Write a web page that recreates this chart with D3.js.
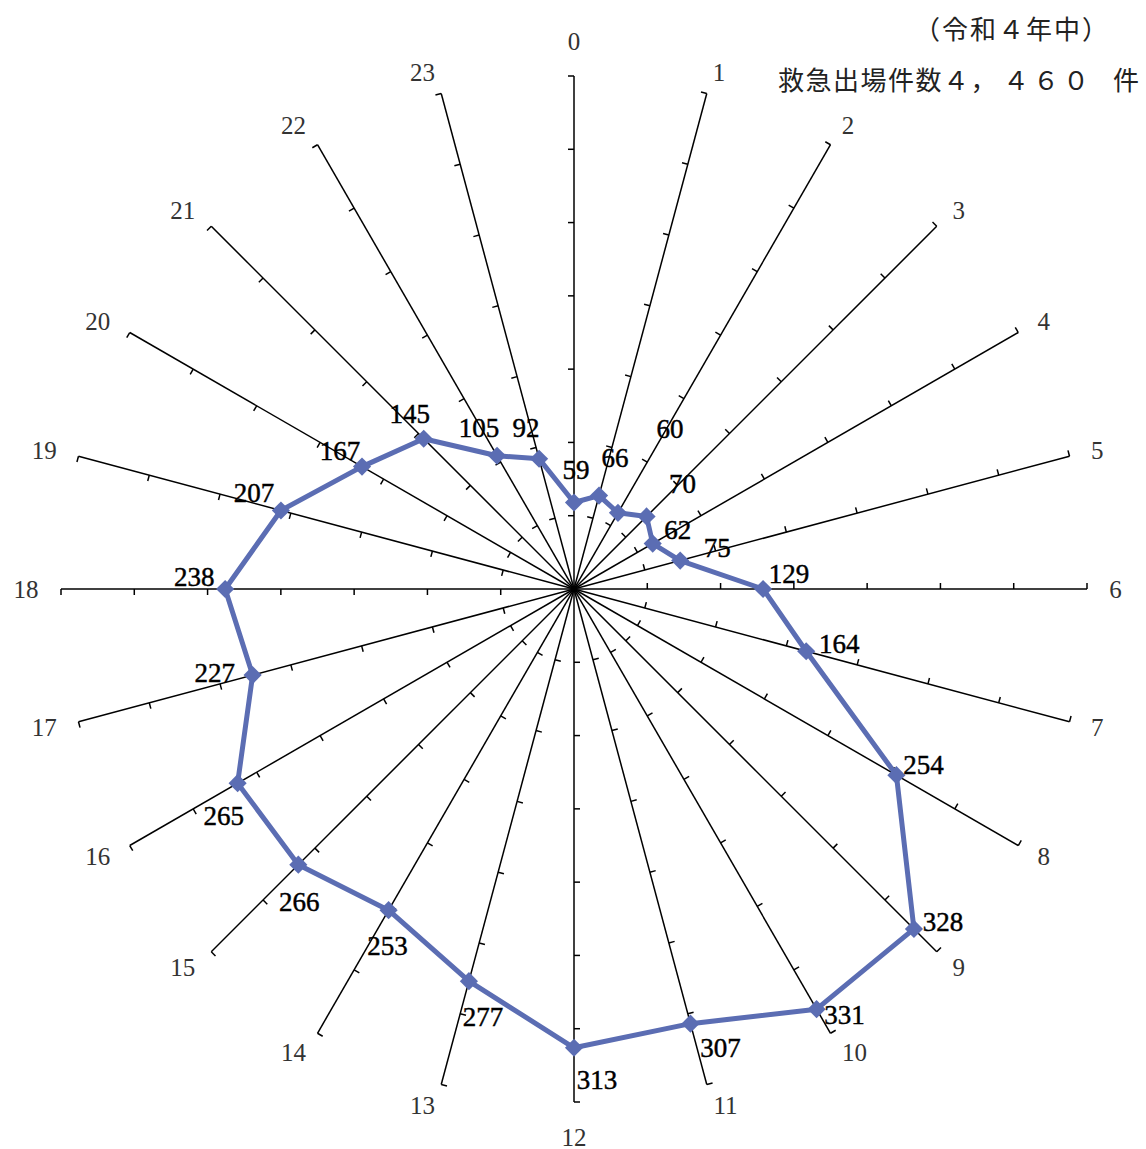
<!DOCTYPE html>
<html><head><meta charset="utf-8">
<script src="https://cdn.jsdelivr.net/npm/d3@7/dist/d3.min.js"></script>
<style>
html,body{margin:0;padding:0;background:#fff;}
svg{display:block;}
</style></head>
<body>
<svg id="chart" width="1146" height="1149"></svg>
<script>
// ---- data ----
const hours = ["0","1","2","3","4","5","6","7","8","9","10","11","12","13","14","15","16","17","18","19","20","21","22","23"];
const counts = [59,66,60,70,62,75,129,164,254,328,331,307,313,277,253,266,265,227,238,207,167,145,105,92];
const tickValues = [50,100,150,200,250,300,350];
const titleLine1 = "（令和４年中）";
const titleLine2a = "救急出場件数４，";
const titleLine2b = "４６０ ";
const titleLine2c = "件";
// label offsets (layout only, px from each marker)
const labelOffsets = [[2,-33],[16,-38],[52,-84],[36,-32],[25,-14],[37,-13],[26,-15],[33,-7],[27,-10],[29,-7],[28,6],[30,24],[23,32],[14,36],[-1,36],[1,37],[-14,33],[-38,-2],[-31,-12],[-27,-17],[-22,-16],[-14,-25],[-18,-28],[-13,-31]];

const svg = d3.select("#chart");
const cx = 574, cy = 589;
const rScale = d3.scaleLinear().domain([0,350]).range([0,513]);
const angle = d3.scaleLinear().domain([0,hours.length]).range([0,2*Math.PI]);

const g = svg.append("g").attr("transform",`translate(${cx},${cy})`);
const serif = "'Liberation Serif','Times New Roman',serif";

// axes
const axisG = g.append("g");
hours.forEach((h,i)=>{
  const a = angle(i);
  const [ex,ey] = d3.pointRadial(a, rScale(350));
  axisG.append("line").attr("x1",0).attr("y1",0).attr("x2",ex).attr("y2",ey)
    .attr("stroke","#000").attr("stroke-width",1.5);
  const px = -Math.cos(a), py = -Math.sin(a);
  tickValues.forEach(t=>{
    const [tx,ty] = d3.pointRadial(a, rScale(t));
    axisG.append("line").attr("x1",tx).attr("y1",ty).attr("x2",tx+px*6).attr("y2",ty+py*6)
      .attr("stroke","#000").attr("stroke-width",1.5);
  });
  const s = Math.sin(a);
  const vertical = Math.abs(s) < 1e-6;
  const [ax,ay] = d3.pointRadial(a, 535 + (vertical ? 13 : 0));
  const halfW = h.length * 6.5;
  const lx = ax + (vertical ? 0 : Math.sign(s) * halfW);
  axisG.append("text").attr("x",lx).attr("y",ay)
    .attr("text-anchor","middle").attr("dominant-baseline","central")
    .attr("font-family",serif).attr("font-size",25)
    .attr("fill","#333").text(h);
});

// series line
const radial = d3.lineRadial()
  .angle((d,i)=>angle(i))
  .radius(d=>rScale(d))
  .curve(d3.curveLinearClosed);
g.append("path").datum(counts).attr("d",radial)
  .attr("fill","none").attr("stroke","#5b6db3").attr("stroke-width",5).attr("stroke-linejoin","round");

// markers
const sym = d3.symbol().type(d3.symbolSquare).size(165);
counts.forEach((v,i)=>{
  const [x,y] = d3.pointRadial(angle(i), rScale(v));
  g.append("path").attr("d",sym()).attr("transform",`translate(${x},${y}) rotate(45)`)
    .attr("fill","#5b6db3");
});

// data labels
counts.forEach((v,i)=>{
  const [x,y] = d3.pointRadial(angle(i), rScale(v));
  const [dx,dy] = labelOffsets[i];
  g.append("text").attr("x",x+dx).attr("y",y+dy)
    .attr("text-anchor","middle").attr("dominant-baseline","central")
    .attr("font-family",serif).attr("font-size",27)
    .attr("fill","#000").attr("stroke","#000").attr("stroke-width",0.45)
    .text(v);
});

// title
const tf = "'Noto Sans CJK JP','Noto Sans CJK SC',sans-serif";
svg.append("text").attr("y",27).attr("dominant-baseline","central")
  .attr("x", Array.from(titleLine1).map((c,k)=>914+k*28).join(" "))
  .attr("font-family",tf).attr("font-size",26)
  .attr("fill","#222").text(titleLine1);
const t2 = svg.append("text").attr("y",78).attr("dominant-baseline","central")
  .attr("font-family",tf).attr("font-size",26).attr("fill","#222");
t2.append("tspan").attr("x", Array.from(titleLine2a).map((c,k)=>778+k*27.5).join(" ")).text(titleLine2a);
t2.append("tspan").attr("x", Array.from(titleLine2b).map((c,k)=>1003+k*30).join(" ")).text(titleLine2b);
t2.append("tspan").attr("x", 1113).text(titleLine2c);
</script>
</body></html>
